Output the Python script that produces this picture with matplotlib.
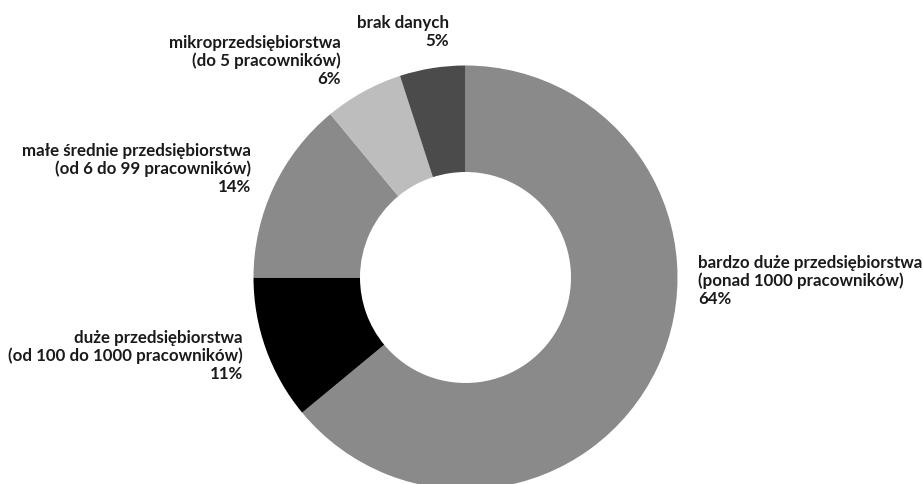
import matplotlib
matplotlib.use("Agg")
import matplotlib.pyplot as plt

# company size shares, clockwise from the top
labels = [
    "bardzo duże przedsiębiorstwa\n(ponad 1000 pracowników)",
    "duże przedsiębiorstwa\n(od 100 do 1000 pracowników)",
    "małe średnie przedsiębiorstwa\n(od 6 do 99 pracowników)",
    "mikroprzedsiębiorstwa\n(do 5 pracowników)",
    "brak danych",
]
shares = [64, 11, 14, 6, 5]
colors = ["#8a8a8a", "#000000", "#8a8a8a", "#bdbdbd", "#4b4b4b"]

W, H = 923, 484
plt.rcParams["font.family"] = ["Lato", "DejaVu Sans"]

fig = plt.figure(figsize=(W / 100, H / 100), dpi=100)
ax = fig.add_axes([0, 0, 1, 1])

cx, cy = 465.5, H - 277.5
r_out = 212
ax.pie(
    shares,
    colors=colors,
    startangle=90,
    counterclock=False,
    radius=r_out,
    center=(cx, cy),
    wedgeprops=dict(width=r_out - 105.5, linewidth=0),
)
ax.set_xlim(0, W)
ax.set_ylim(0, H)
ax.set_aspect("equal")
ax.axis("off")

# label anchors in pixel coordinates (x, y from top, alignment)
label_pos = [
    (698, 281, "left"),
    (243, 356, "right"),
    (251, 169, "right"),
    (341, 61, "right"),
    (449, 32, "right"),
]
for lab, val, (x, y, ha) in zip(labels, shares, label_pos):
    ax.text(
        x, H - y, f"{lab}\n{val}%",
        ha=ha, va="center", multialignment=ha,
        fontsize=12.2, fontweight="bold", color="#1a1a1a", linespacing=1.12,
    )

fig.savefig("out.png", dpi=100)
